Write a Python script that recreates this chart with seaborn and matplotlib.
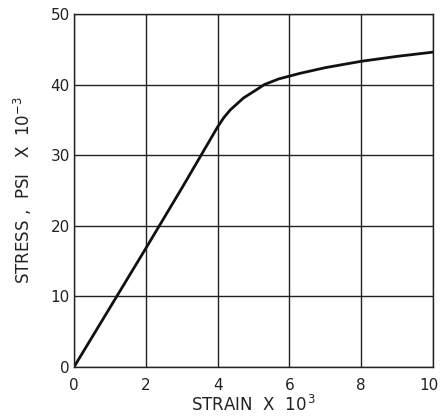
import matplotlib
matplotlib.use("Agg")
import matplotlib.pyplot as plt
import matplotlib.transforms as mtransforms
import seaborn as sns
import pandas as pd

# Stress-strain curve (strain x 10^3, stress in ksi)
strain = [0, 1, 2, 3, 4, 4.17, 4.35, 4.72, 5.09, 5.3, 5.7, 6, 6.3, 7, 8, 9, 10]
stress = [0, 8.4, 16.8, 25.3, 34.0, 35.3, 36.4, 38.1, 39.3, 40.0, 40.8, 41.2, 41.6, 42.4, 43.3, 44.0, 44.6]

x_ticks = [0, 2, 4, 6, 8, 10]
y_ticks = [0, 10, 20, 30, 40, 50]
x_label = "STRAIN  X  10$^{\\,3}$"
y_label = "STRESS ,  PSI   X  10$^{-3}$"

df = pd.DataFrame({"strain": strain, "stress": stress})

sns.set_theme(style="white")
plt.rcParams["font.family"] = ["DejaVu Sans"]
plt.rcParams["mathtext.fontset"] = "dejavusans"

fig = plt.figure(figsize=(4.41, 4.19), dpi=100)
ax = fig.add_axes([74 / 441, 52 / 419, 359 / 441, 353 / 419])

sns.lineplot(data=df, x="strain", y="stress", ax=ax, color="#111111",
             linewidth=2.0, sort=False)

ax.set_xlim(0, 10)
ax.set_ylim(0, 50)
ax.set_xticks(x_ticks)
ax.set_yticks(y_ticks)
ax.set_xticklabels([str(v) for v in x_ticks])
ax.set_yticklabels([str(v) for v in y_ticks])
ax.grid(True, color="#222222", linewidth=1.0)
ax.set_axisbelow(True)
for s in ax.spines.values():
    s.set_color("#222222")
    s.set_linewidth(1.0)
ax.tick_params(axis="both", length=0, labelsize=11, colors="#222222")
ax.tick_params(axis="x", pad=8)
ax.tick_params(axis="y", pad=3)

# keep the last strain label inside the figure edge
last = ax.get_xticklabels()[-1]
last.set_transform(last.get_transform() +
                   mtransforms.ScaledTranslation(-4 / 100, 0, fig.dpi_scale_trans))

ax.set_xlabel(x_label, fontsize=12, color="#222222", labelpad=1)
ax.set_ylabel(y_label, fontsize=12, color="#222222", labelpad=12)

fig.savefig("out.png", dpi=100, facecolor="white")
